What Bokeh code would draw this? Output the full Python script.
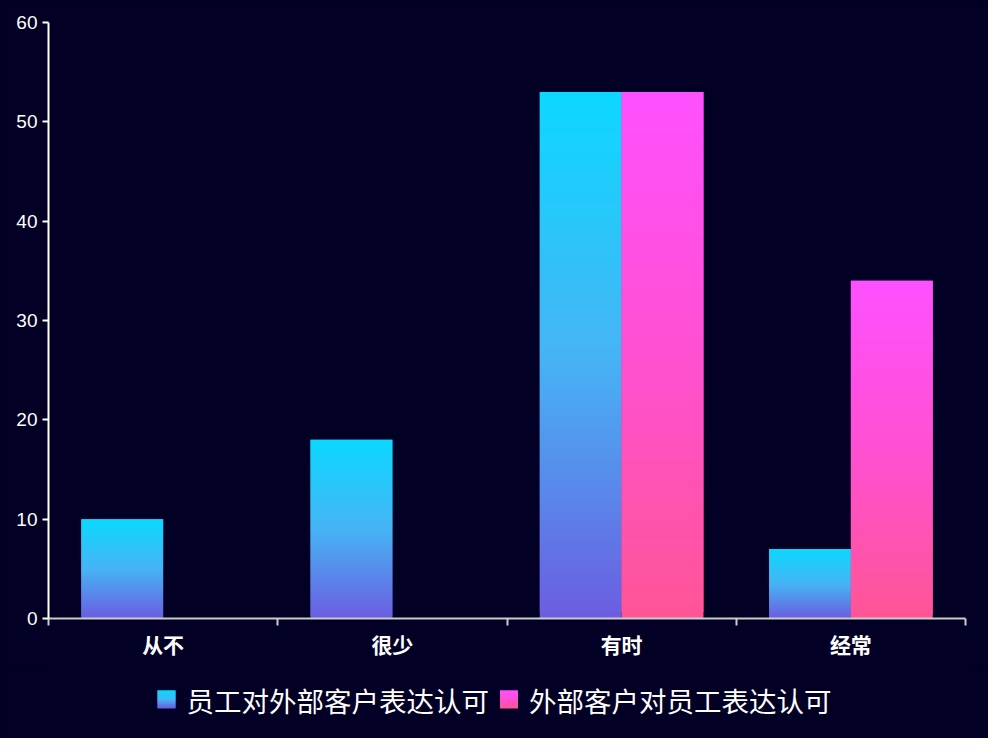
from bokeh.plotting import figure
from bokeh.layouts import column
from bokeh.models import Range1d, FixedTicker, ColumnDataSource
from bokeh.core.properties import value
from bokeh.embed import file_html
from bokeh.resources import INLINE

# ---- data ----
categories = ["从不", "很少", "有时", "经常"]
series_names = ["员工对外部客户表达认可", "外部客户对员工表达认可"]
employee_to_client = [10, 18, 53, 7]
client_to_employee = [0, 0, 53, 34]
y_ticks = [0, 10, 20, 30, 40, 50, 60]

# gradient stops (bottom -> top)
cyan_stops = [(107, 94, 224), (70, 180, 245), (12, 216, 255)]
pink_stops = [(255, 85, 150), (255, 80, 210), (255, 80, 255)]

BG = "#020024"
FONT_CJK = "Noto Sans CJK SC"
W = 988
H_MAIN = 668
H_LEG = 70
B_LEFT = 48
B_RIGHT = 23


def interp(stops, t):
    n = len(stops) - 1
    pos = t * n
    i = min(int(pos), n - 1)
    f = pos - i
    a, b = stops[i], stops[i + 1]
    return "#%02x%02x%02x" % tuple(int(round(a[k] + (b[k] - a[k]) * f)) for k in range(3))


def gradient_quads(fig, boxes, stops, n=80):
    left, right, bottom, top, colors = [], [], [], [], []
    for (x0, x1, y0, y1) in boxes:
        h = (y1 - y0) / n
        for k in range(n):
            left.append(x0)
            right.append(x1)
            bottom.append(y0 + h * k)
            top.append(min(y1, y0 + h * (k + 2)))
            colors.append(interp(stops, k / (n - 1)))
    src = ColumnDataSource(dict(left=left, right=right, bottom=bottom, top=top, color=colors))
    fig.quad(left="left", right="right", bottom="bottom", top="top", fill_color="color",
             line_color=None, source=src)


# ---------------- main chart ----------------
p = figure(width=W, height=H_MAIN, output_backend="svg", toolbar_location=None,
           x_range=Range1d(0, len(categories)), y_range=Range1d(0, 60),
           background_fill_color=BG, border_fill_color=BG,
           min_border_left=B_LEFT, min_border_right=B_RIGHT, min_border_top=22,
           min_border_bottom=50, styles={"background-color": BG})
p.outline_line_color = BG
p.outline_line_width = 2
p.grid.visible = False

bar_w = 0.357
gradient_quads(p, [(i + 0.5 - bar_w, i + 0.5, 0, v) for i, v in enumerate(employee_to_client) if v > 0],
               cyan_stops)
gradient_quads(p, [(i + 0.5, i + 0.5 + bar_w, 0, v) for i, v in enumerate(client_to_employee) if v > 0],
               pink_stops)

# y axis
ya = p.yaxis[0]
ya.ticker = FixedTicker(ticks=y_ticks)
ya.axis_line_color = "white"
ya.axis_line_width = 2
ya.major_tick_line_color = "white"
ya.major_tick_line_width = 2
ya.major_tick_out = 6
ya.major_tick_in = 0
ya.minor_tick_line_color = None
ya.major_label_text_color = "white"
ya.major_label_text_font = "Liberation Sans"
ya.major_label_text_font_size = "19px"
ya.major_label_standoff = 5

# x axis
xa = p.xaxis[0]
xa.ticker = FixedTicker(ticks=[i + 0.5 for i in range(len(categories))],
                        minor_ticks=list(range(len(categories) + 1)))
xa.major_label_overrides = {i + 0.5: c for i, c in enumerate(categories)}
xa.axis_line_color = "#cccccc"
xa.axis_line_width = 2
xa.major_tick_line_color = None
xa.major_tick_out = 0
xa.major_tick_in = 0
xa.minor_tick_line_color = "#cccccc"
xa.minor_tick_line_width = 2
xa.minor_tick_out = 7
xa.minor_tick_in = 0
xa.major_label_text_color = "white"
xa.major_label_text_font = FONT_CJK
xa.major_label_text_font_style = "bold"
xa.major_label_text_font_size = "21px"
xa.major_label_standoff = 3

# ---------------- legend strip ----------------
# frame is aligned with the main chart's frame; data units = canvas pixels
leg = figure(width=W, height=H_LEG, output_backend="svg", toolbar_location=None,
             x_range=Range1d(B_LEFT, W - B_RIGHT), y_range=Range1d(0, H_LEG),
             x_axis_location=None, y_axis_location=None,
             background_fill_color=BG, border_fill_color=BG,
             min_border_left=B_LEFT, min_border_right=B_RIGHT,
             min_border_top=0, min_border_bottom=0, styles={"background-color": BG})
leg.outline_line_color = BG
leg.outline_line_width = 3
leg.grid.visible = False

font_px = 27.5
sq = 18
gap = 11
spacing = 11
cy = 39
item_w = [sq + gap + len(s) * font_px for s in series_names]
total = sum(item_w) + spacing * (len(series_names) - 1)
x = W / 2 - total / 2
txt_x, txt_y = [], []
for s, w, stops in zip(series_names, item_w, [cyan_stops, pink_stops]):
    gradient_quads(leg, [(x, x + sq, cy - sq / 2, cy + sq / 2)], stops, n=24)
    txt_x.append(x + sq + gap)
    txt_y.append(cy)
    x += w + spacing
leg.text(x=txt_x, y=txt_y, text=series_names, text_color="white",
         text_font=value(FONT_CJK), text_font_size=value("%gpx" % font_px),
         text_align="left", text_baseline="middle")

layout = column(p, leg, spacing=0, styles={"background-color": BG})
open("out.html", "w").write(file_html(layout, INLINE))
